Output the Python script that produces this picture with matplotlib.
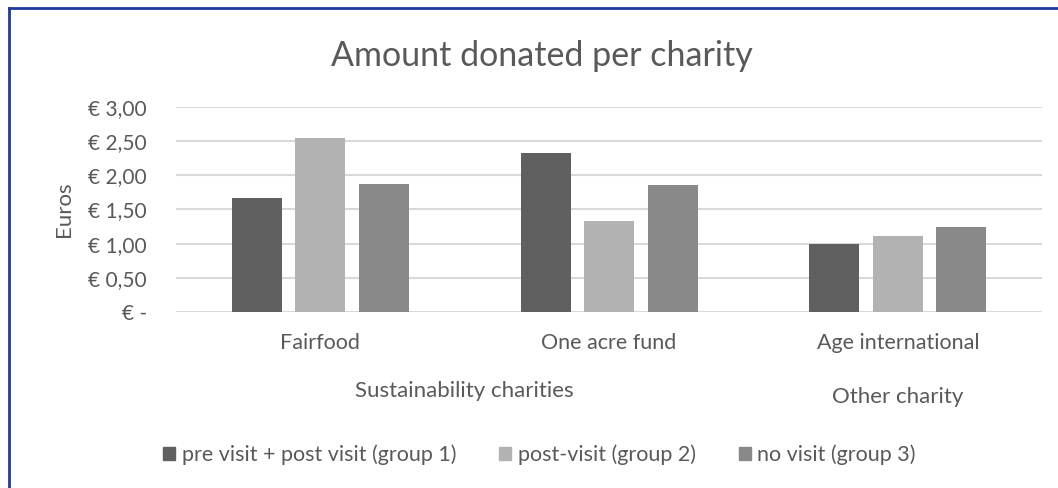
import matplotlib.pyplot as plt
import numpy as np
from matplotlib.lines import Line2D
from matplotlib.patches import Rectangle

plt.rcParams['font.family'] = ['Lato', 'DejaVu Sans']

# data
charities = ["Fairfood", "One acre fund", "Age international"]
groups = ["Sustainability charities", "Other charity"]
group_spans = [(0, 1), (2, 2)]
series_names = ["pre visit + post visit (group 1)", "post-visit (group 2)", "no visit (group 3)"]
group1 = [1.67, 2.33, 0.99]
group2 = [2.55, 1.33, 1.12]
group3 = [1.87, 1.86, 1.25]
y_ticks = [0, 0.5, 1.0, 1.5, 2.0, 2.5, 3.0]
y_tick_labels = ["€ -", "€ 0,50", "€ 1,00", "€ 1,50", "€ 2,00", "€ 2,50", "€ 3,00"]

colors = ["#606060", "#b2b2b2", "#898989"]
txt = "#595959"

fig = plt.figure(figsize=(10.58, 4.88), dpi=100)
ax = fig.add_axes([0.1664, 0.36, 0.8186, 0.4214])

x = np.arange(len(charities))
w = 0.173
step = 0.22
for i, (vals, c, name) in enumerate(zip([group1, group2, group3], colors, series_names)):
    ax.bar(x + (i - 1) * step, vals, width=w, color=c, label=name, zorder=3)

ax.set_xlim(-0.5, len(charities) - 0.5)
ax.set_ylim(0, 3.0)
ax.set_yticks(y_ticks)
ax.set_yticklabels(y_tick_labels)
ax.set_xticks(x)
ax.set_xticklabels(charities)
ax.tick_params(axis='x', length=0, labelsize=15.5, colors=txt, pad=15)
ax.tick_params(axis='y', length=0, labelsize=15, colors=txt, pad=21)
ax.grid(axis='y', color='#d9d9d9', linewidth=1.5, zorder=0)
for s in ax.spines.values():
    s.set_visible(False)

ax.set_ylabel("Euros", fontsize=16, color=txt, labelpad=10)

# second level of category axis
trans = ax.get_xaxis_transform()
for name, (a, b) in zip(groups, group_spans):
    yy = -0.385 if name == groups[0] else -0.41
    ax.text((a + b) / 2, yy, name, transform=trans, ha='center', va='center',
            fontsize=16, color=txt)

fig.text(0.512, 0.885, "Amount donated per charity", ha='center', va='center',
         fontsize=24.5, color=txt)

handles = [Rectangle((0, 0), 1, 1, color=c) for c in colors]
fig.legend(handles, series_names, loc='center', bbox_to_anchor=(0.51, 0.068), ncol=3,
           frameon=False, fontsize=15.5, labelcolor=txt, handlelength=0.56,
           handleheight=0.56, handletextpad=0.3, columnspacing=2.0)

# border (top and left visible)
fig.add_artist(Line2D([9 / 1058, 9 / 1058], [0, 1 - 8 / 488], transform=fig.transFigure,
                      color='#1f3a9c', linewidth=2))
fig.add_artist(Line2D([9 / 1058, 1], [1 - 8 / 488, 1 - 8 / 488], transform=fig.transFigure,
                      color='#1f3a9c', linewidth=2))

fig.savefig("out.png", dpi=100, facecolor='white')
